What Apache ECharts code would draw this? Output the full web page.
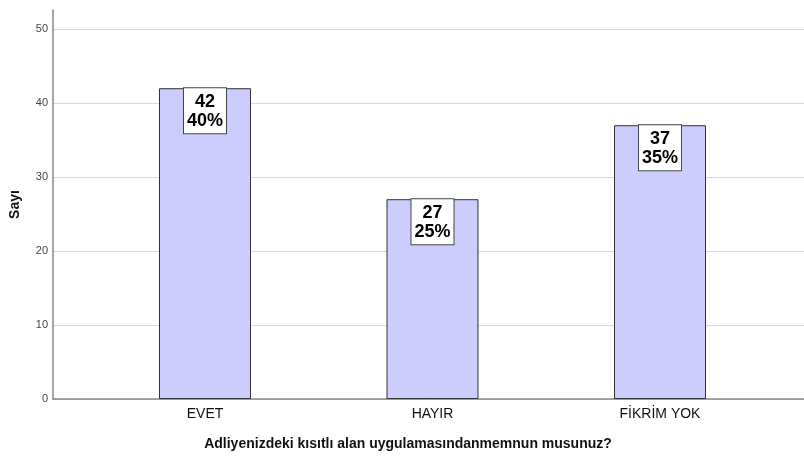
<!DOCTYPE html>
<html><head><meta charset="utf-8">
<script src="https://cdn.jsdelivr.net/npm/echarts@6/dist/echarts.min.js"></script>
<style>html,body{margin:0;padding:0;background:#fff}#c{width:804px;height:456px}</style>
</head><body><div id="c"></div>
<script>
var categories = ['EVET', 'HAYIR', 'FİKRİM YOK'];
var counts = [42, 27, 37];
var percents = ['40%', '25%', '35%'];
var yTicks = [0, 10, 20, 30, 40, 50];
var yTitle = 'Sayı';
var xTitle = 'Adliyenizdeki kısıtlı alan uygulamasındanmemnun musunuz?';

var chart = echarts.init(document.getElementById('c'));
var yMax = 52.57;
chart.setOption({
  animation: false,
  grid: [
    {left: 53, right: 0, top: 10, bottom: 57, outerBoundsMode: 'none', containLabel: false},
    {left: 91.25, right: 30.25, top: 10, bottom: 57, outerBoundsMode: 'none', containLabel: false}
  ],
  xAxis: [
    {gridIndex: 0, type: 'category', data: [''], axisLine: {lineStyle: {color: '#888', width: 1.5}}, axisTick: {show: false}, axisLabel: {show: false}},
    {gridIndex: 1, type: 'category', data: categories, axisLine: {show: false}, axisTick: {show: false},
     axisLabel: {color: '#111', fontSize: 14, fontFamily: 'Liberation Sans, Arial', margin: 8}}
  ],
  yAxis: [
    {gridIndex: 0, type: 'value', min: 0, max: yMax, interval: 10,
     name: yTitle, nameLocation: 'middle', nameGap: 31, nameRotate: 90,
     nameTextStyle: {fontWeight: 'bold', fontSize: 14, color: '#111', fontFamily: 'Liberation Sans, Arial'},
     axisLine: {show: true, lineStyle: {color: '#888', width: 1.5}}, axisTick: {show: false},
     axisLabel: {color: '#444', fontSize: 11, fontFamily: 'Liberation Sans, Arial', margin: 5,
       formatter: function(v){ return yTicks.indexOf(v) >= 0 ? String(v) : ''; }},
     splitLine: {show: true, showMaxLine: false, lineStyle: {color: '#d9d9d9', width: 1}}},
    {gridIndex: 1, type: 'value', min: 0, max: yMax, show: false}
  ],
  graphic: [{type: 'text', x: 408, y: 437, style: {text: xTitle, font: 'bold 14px "Liberation Sans", Arial', fill: '#111', align: 'center', textAlign: 'center'}}],
  series: [{
    type: 'bar', xAxisIndex: 1, yAxisIndex: 1, data: counts, barWidth: 92,
    itemStyle: {color: '#ccccff', borderColor: '#333', borderWidth: 1},
    label: {show: true, position: 'insideTop', distance: 0,
      formatter: function(p){ return p.value + '\n' + percents[p.dataIndex]; },
      backgroundColor: '#fff', borderColor: '#444', borderWidth: 1, padding: [5, 3, 3, 3],
      color: '#000', fontWeight: 'bold', fontSize: 18, lineHeight: 18.5, fontFamily: 'Liberation Sans, Arial'}
  }]
});
</script></body></html>
